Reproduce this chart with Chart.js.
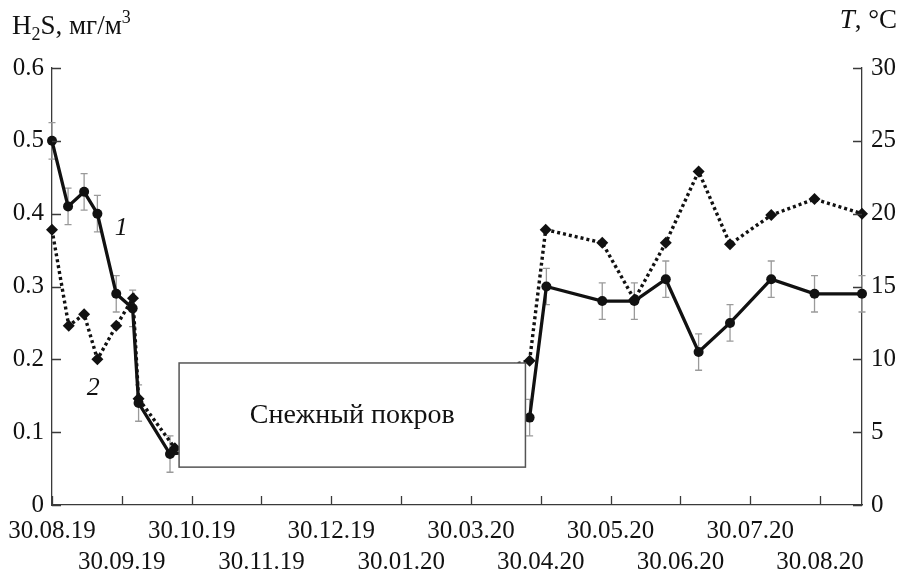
<!DOCTYPE html>
<html><head><meta charset="utf-8">
<script src="https://cdn.jsdelivr.net/npm/chart.js@4"></script>
<style>html,body{margin:0;padding:0;background:#fff}canvas{display:block}</style>
</head><body>
<canvas id="c" width="899" height="570"></canvas>
<script>
// ---- data ----
const dateLabels = ['30.08.19','30.09.19','30.10.19','30.11.19','30.12.19','30.01.20','30.03.20','30.04.20','30.05.20','30.06.20','30.07.20','30.08.20'];
const tickPositions = [0,1,2,3,4,5,6,7,8,9,10,11];
const xH2S = [0, 0.23, 0.46, 0.65, 0.92, 1.155, 1.24, 1.69, 6.84, 7.08, 7.88, 8.34, 8.79, 9.26, 9.71, 10.30, 10.92, 11.6];
const h2s  = [0.50, 0.41, 0.43, 0.40, 0.29, 0.27, 0.14, 0.07, 0.12, 0.30, 0.28, 0.28, 0.31, 0.21, 0.25, 0.31, 0.29, 0.29];
const h2sErr = [0.025,0.025,0.025,0.025,0.025,0.025,0.025,0.025,0.025,0.025,0.025,0.025,0.025,0.025,0.025,0.025,0.025,0.025];
const xTemp = [0, 0.24, 0.46, 0.65, 0.92, 1.16, 1.24, 1.76, 6.84, 7.07, 7.88, 8.34, 8.79, 9.26, 9.71, 10.30, 10.92, 11.6];
const temp  = [18.9, 12.3, 13.1, 10.0, 12.3, 14.2, 7.3, 3.9, 9.9, 18.9, 18.0, 14.1, 18.0, 22.9, 17.9, 19.9, 21.0, 20.0];
const leftTicks = [0,0.1,0.2,0.3,0.4,0.5,0.6];
const leftTickLabels = ['0','0.1','0.2','0.3','0.4','0.5','0.6'];
const rightTicks = [0,5,10,15,20,25,30];
const rightTickLabels = ['0','5','10','15','20','25','30'];
const snowLabel = 'Снежный покров';
const snowX = [1.82, 6.78];
const snowY = [0.052, 0.195];
const seriesTags = ['1','2'];
const tagX = [0.99, 0.59];
const tagY = [0.38, 0.16];
const xMax = 11.6;

const FONT = "'Liberation Serif', 'DejaVu Serif', serif";
const INK = '#111';
const AX = '#3a3a3a';

const errorBars = {
  id: 'errorBars',
  beforeDatasetsDraw(chart) {
    const {ctx, scales:{x, y}} = chart;
    ctx.save();
    ctx.strokeStyle = '#9a9a9a';
    ctx.lineWidth = 1.3;
    xH2S.forEach((xv, i) => {
      const px = x.getPixelForValue(xv);
      const top = y.getPixelForValue(h2s[i] + h2sErr[i]);
      const bot = y.getPixelForValue(h2s[i] - h2sErr[i]);
      ctx.beginPath();
      ctx.moveTo(px, top); ctx.lineTo(px, bot);
      ctx.moveTo(px - 3.5, top); ctx.lineTo(px + 3.5, top);
      ctx.moveTo(px - 3.5, bot); ctx.lineTo(px + 3.5, bot);
      ctx.stroke();
    });
    ctx.restore();
  }
};

const snowPlugin = {
  id: 'snow',
  afterDatasetsDraw(chart) {
    const {ctx, scales:{x, y}} = chart;
    const l = x.getPixelForValue(snowX[0]), r = x.getPixelForValue(snowX[1]);
    const t = y.getPixelForValue(snowY[1]), b = y.getPixelForValue(snowY[0]);
    ctx.save();
    ctx.fillStyle = '#fff';
    ctx.fillRect(l, t, r - l, b - t);
    ctx.strokeStyle = '#555';
    ctx.lineWidth = 1.5;
    ctx.strokeRect(l, t, r - l, b - t);
    ctx.fillStyle = INK;
    ctx.font = '28px ' + FONT;
    ctx.textAlign = 'center';
    ctx.textBaseline = 'alphabetic';
    ctx.fillText(snowLabel, (l + r) / 2, t + 60);
    // series tags
    ctx.font = 'italic 26px ' + FONT;
    seriesTags.forEach((s, i) => {
      ctx.textBaseline = 'middle';
      ctx.fillText(s, x.getPixelForValue(tagX[i]), y.getPixelForValue(tagY[i]));
    });
    ctx.restore();
  }
};

const axisDecor = {
  id: 'axisDecor',
  afterDraw(chart) {
    const {ctx, chartArea:a, scales:{x, y, y1}} = chart;
    ctx.save();
    ctx.strokeStyle = AX;
    ctx.lineWidth = 1.3;
    ctx.beginPath();
    tickPositions.forEach(v => { const p = Math.round(x.getPixelForValue(v)) + 0.5; ctx.moveTo(p, a.bottom); ctx.lineTo(p, a.bottom - 9); });
    leftTicks.forEach(v => { const p = Math.round(y.getPixelForValue(v)) + 0.5; ctx.moveTo(a.left, p); ctx.lineTo(a.left + 9, p); });
    rightTicks.forEach(v => { const p = Math.round(y1.getPixelForValue(v)) + 0.5; ctx.moveTo(a.right, p); ctx.lineTo(a.right - 9, p); });
    ctx.stroke();
    // axis titles
    ctx.fillStyle = INK;
    ctx.textBaseline = 'alphabetic';
    ctx.textAlign = 'left';
    let cx = 12; const base = 34;
    const put = (txt, font, dy) => { ctx.font = font; ctx.fillText(txt, cx, base + dy); cx += ctx.measureText(txt).width; };
    put('H', '27px ' + FONT, 0);
    put('2', '18px ' + FONT, 6);
    put('S, мг/м', '27px ' + FONT, 0);
    put('3', '18px ' + FONT, -11);
    // right title
    ctx.font = 'italic 27px ' + FONT;
    const w1 = ctx.measureText('T').width;
    ctx.font = '27px ' + FONT;
    const w2 = ctx.measureText(', °C').width;
    cx = 897 - w1 - w2;
    put('T', 'italic 27px ' + FONT, -6);
    put(', °C', '27px ' + FONT, -6);
    ctx.restore();
  }
};

new Chart(document.getElementById('c'), {
  type: 'line',
  data: {
    datasets: [
      {
        label: 'H2S',
        data: xH2S.map((xv, i) => ({x: xv, y: h2s[i]})),
        yAxisID: 'y',
        borderColor: INK, backgroundColor: INK,
        borderWidth: 3.3,
        pointStyle: 'circle', pointRadius: 5, pointHoverRadius: 5,
        pointBorderWidth: 0,
        tension: 0, clip: false
      },
      {
        label: 'T',
        data: xTemp.map((xv, i) => ({x: xv, y: temp[i]})),
        yAxisID: 'y1',
        borderColor: INK, backgroundColor: INK,
        borderWidth: 3.4,
        borderDash: [3, 3],
        pointStyle: 'rectRot', pointRadius: 6, pointHoverRadius: 6,
        pointBorderWidth: 0,
        tension: 0, clip: false
      }
    ]
  },
  options: {
    responsive: false,
    animation: false,
    devicePixelRatio: 1,
    layout: {autoPadding: false, padding: {top: 68, left: 0, right: 0, bottom: 0}},
    plugins: {legend: {display: false}, tooltip: {enabled: false}},
    events: [],
    scales: {
      x: {
        type: 'linear', min: 0, max: xMax,
        afterBuildTicks: s => { s.ticks = tickPositions.map(v => ({value: v})); },
        afterFit: s => { s.height = 65; s.paddingLeft = 0; s.paddingRight = 0; },
        grid: {display: false, drawOnChartArea: false, drawTicks: false},
        border: {display: true, color: AX, width: 1.3},
        ticks: {
          autoSkip: false, maxRotation: 0, minRotation: 0,
          padding: 11,
          color: INK,
          font: {family: FONT, size: 25, lineHeight: 1.25},
          callback: (v, i) => (i % 2 === 0 ? [dateLabels[i], ''] : ['', dateLabels[i]])
        }
      },
      y: {
        position: 'left', min: 0, max: 0.6,
        afterBuildTicks: s => { s.ticks = leftTicks.map(v => ({value: v})); },
        afterFit: s => { s.width = 52; },
        grid: {display: false, drawOnChartArea: false, drawTicks: false},
        border: {display: true, color: AX, width: 1.3},
        ticks: {padding: 8, color: INK, font: {family: FONT, size: 25},
          callback: (v, i) => leftTickLabels[i]}
      },
      y1: {
        position: 'right', min: 0, max: 30,
        afterBuildTicks: s => { s.ticks = rightTicks.map(v => ({value: v})); },
        afterFit: s => { s.width = 37; },
        grid: {display: false, drawOnChartArea: false, drawTicks: false},
        border: {display: true, color: AX, width: 1.3},
        ticks: {padding: 9, color: INK, font: {family: FONT, size: 25},
          callback: (v, i) => rightTickLabels[i]}
      }
    }
  },
  plugins: [errorBars, snowPlugin, axisDecor]
});
</script>
</body></html>
